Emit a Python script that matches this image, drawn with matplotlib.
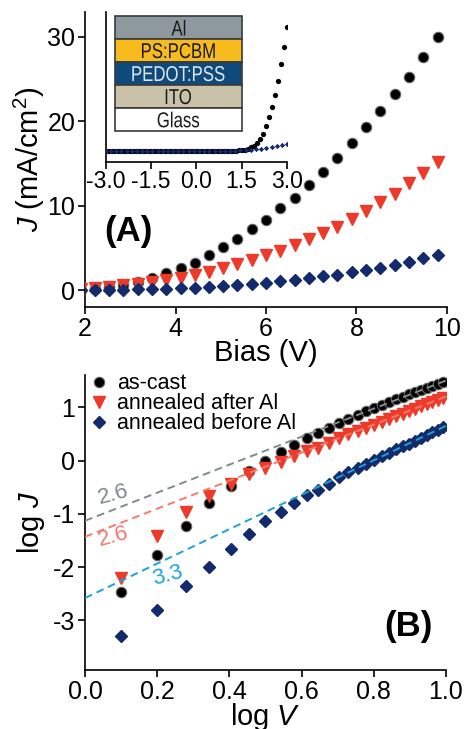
import matplotlib
matplotlib.use("Agg")
import matplotlib.pyplot as plt
import numpy as np
from matplotlib.patches import Rectangle, PathPatch
from matplotlib.textpath import TextPath
from matplotlib.font_manager import FontProperties
from matplotlib.transforms import Affine2D, ScaledTranslation

plt.rcParams['font.family'] = ['Liberation Sans', 'DejaVu Sans']
plt.rcParams['mathtext.fontset'] = 'custom'
plt.rcParams['mathtext.rm'] = 'Liberation Sans'
plt.rcParams['mathtext.it'] = 'Liberation Sans:italic'
plt.rcParams['axes.unicode_minus'] = False

# bias points (V)
bias = [1.26, 1.58, 1.90, 2.21, 2.53, 2.84, 3.16, 3.48, 3.79, 4.11, 4.42, 4.74, 5.06, 5.37,
        5.69, 6.00, 6.32, 6.64, 6.95, 7.27, 7.58, 7.90, 8.22, 8.53, 8.85, 9.16, 9.48, 9.80]

# current density (mA/cm2)
j_ascast = [0.0034, 0.017, 0.060, 0.16, 0.33, 0.63, 1.00, 1.42, 1.98, 2.60, 3.25, 4.10, 5.10, 6.10,
            7.20, 8.35, 9.70, 10.9, 12.45, 14.0, 15.7, 17.4, 19.3, 21.2, 23.2, 25.3, 27.6, 30.0]
j_after = [0.0063, 0.039, 0.107, 0.22, 0.37, 0.56, 0.72, 0.95, 1.23, 1.48, 1.74, 2.14, 2.60, 3.10,
           3.60, 4.16, 4.67, 5.30, 6.05, 6.73, 7.48, 8.43, 9.38, 10.4, 11.44, 12.67, 13.86, 15.17]
j_before = [0.00051, 0.00155, 0.0044, 0.0102, 0.022, 0.041, 0.072, 0.11, 0.16, 0.23, 0.28, 0.37, 0.49, 0.60,
            0.72, 0.85, 1.02, 1.19, 1.40, 1.62, 1.84, 2.08, 2.37, 2.67, 3.01, 3.37, 3.76, 4.17]

# inset: full sweep -3..3 V
inset_v_cast = [-3.0, -2.9, -2.8, -2.7, -2.6, -2.5, -2.4, -2.3, -2.2, -2.1, -2.0, -1.9, -1.8, -1.7, -1.6,
                -1.5, -1.4, -1.3, -1.2, -1.1, -1.0, -0.9, -0.8, -0.7, -0.6, -0.5, -0.4, -0.3, -0.2, -0.1,
                0.0, 0.1, 0.2, 0.3, 0.4, 0.5, 0.6, 0.7, 0.8, 0.9, 1.0, 1.1, 1.2, 1.3, 1.4,
                1.5, 1.6, 1.7, 1.8, 1.9, 2.0, 2.1, 2.2, 2.3, 2.4, 2.5, 2.6, 2.7, 2.8, 2.9, 3.0]
inset_j_cast = [0, 0, 0, 0, 0, 0, 0, 0, 0, 0, 0, 0, 0, 0, 0,
                0, 0, 0, 0, 0, 0, 0, 0, 0, 0, 0, 0, 0, 0, 0,
                0, 0, 0, 0, 0, 0, 0, 0, 0, 0, 0, 0, 0, 0, 0.001,
                0.002, 0.005, 0.011, 0.020, 0.032, 0.050, 0.076, 0.110, 0.158, 0.216, 0.280, 0.357,
                0.454, 0.558, 0.670, 0.800]
inset_v_before = [-3.00, -2.83, -2.66, -2.49, -2.31, -2.14, -1.97, -1.80, -1.63, -1.46, -1.29, -1.11,
                  -0.94, -0.77, -0.60, -0.43, -0.26, -0.09, 0.09, 0.26, 0.43, 0.60, 0.77, 0.94,
                  1.11, 1.29, 1.46, 1.63, 1.80, 1.97, 2.14, 2.31, 2.49, 2.66, 2.83, 3.00]
inset_j_before = [0, 0, 0, 0, 0, 0, 0, 0, 0, 0, 0, 0,
                  0, 0, 0, 0, 0, 0, 0, 0, 0, 0, 0, 0,
                  0, 0, 0.001, 0.003, 0.006, 0.009, 0.013, 0.018, 0.023, 0.029, 0.036, 0.043]

layers = ['Al', 'PS:PCBM', 'PEDOT:PSS', 'ITO', 'Glass']
layer_colors = ['#8e989f', '#f8bb1d', '#0f4a7b', '#c9c2a8', '#ffffff']
layer_text_colors = ['#1a1a1a', '#1a1a1a', '#dfe8f0', '#1a1a1a', '#1a1a1a']

# power-law fits in log-log: (slope, intercept, label)
fit_slopes = [2.63, 2.63, 3.23]
fit_intercepts = [-1.13, -1.43, -2.58]
fit_labels = ['2.6', '2.6', '3.3']
fit_colors = ['#808b8c', '#f47a70', '#1aa3d4']

c_black = '#000000'
c_red = '#ee3a2a'
c_blue = '#132a6c'

fig = plt.figure(figsize=(4.65, 7.29), dpi=100)

tick_fs = 18
label_fs = 21


def style_axes(ax):
    for side in ['top', 'right']:
        ax.spines[side].set_visible(False)
    for side in ['left', 'bottom']:
        ax.spines[side].set_linewidth(1.2)
    ax.tick_params(direction='out', length=5, width=1.2, labelsize=tick_fs, pad=2)


def narrow_text(ax, x, y, s, size, color, squeeze=0.8):
    # condensed label: text outline squeezed horizontally
    tp = TextPath((0, 0), s, size=size, prop=FontProperties(family='Liberation Sans'))
    ext = tp.get_extents()
    cx = (ext.x0 + ext.x1) / 2
    cy = (ext.y0 + ext.y1) / 2
    tr = (Affine2D().translate(-cx, -cy).scale(squeeze / 72.0, 1 / 72.0)
          + fig.dpi_scale_trans + ScaledTranslation(x, y, ax.transAxes))
    ax.add_artist(PathPatch(tp, transform=tr, facecolor=color, edgecolor='none', zorder=6))


# ---- panel A
ax1 = fig.add_axes([0.183, 0.579, 0.778, 0.405])
style_axes(ax1)
ax1.plot(bias, j_ascast, 'o', color=c_black, mec='#666666', mew=0.8, ms=7.5, zorder=3)
ax1.plot(bias, j_after, 'v', color=c_red, mec=c_red, ms=8, zorder=3)
ax1.plot(bias, j_before, 'D', color=c_blue, mec=c_blue, ms=6, zorder=3)
ax1.set_xlim(2, 10)
ax1.set_ylim(-2.0, 33.0)
ax1.set_xticks([2, 4, 6, 8, 10])
ax1.set_yticks([0, 10, 20, 30])
ax1.set_xlabel('Bias (V)', fontsize=label_fs, labelpad=-1)
ax1.set_ylabel('$J$ (mA/cm$^2$)', fontsize=label_fs, labelpad=0)
ax1.text(2.95, 6.9, '(A)', fontsize=25, fontweight='bold', ha='center', va='center')

# inset
axi = fig.add_axes([0.228, 0.778, 0.389, 0.206])
axi.patch.set_visible(False)
style_axes(axi)
axi.plot(inset_v_cast, inset_j_cast, 'o', color=c_black, ms=3.8, mew=0, zorder=3)
axi.plot(inset_v_before, inset_j_before, 'D', color=c_blue, ms=2.7, mew=0, zorder=4)
axi.set_xlim(-3, 3)
axi.set_ylim(-0.073, 0.90)
axi.set_xticks([-3.0, -1.5, 0.0, 1.5, 3.0])
axi.set_xticklabels(['-3.0', '-1.5', '0.0', '1.5', '3.0'])
axi.set_yticks([])
axi.tick_params(axis='x', labelsize=16.5, pad=1)

# device stack drawn in the inset (axes fraction coords)
box_x0, box_w = 0.05, 0.70
box_top, box_h = 0.97, 0.153
for i, (name, fc, tc) in enumerate(zip(layers, layer_colors, layer_text_colors)):
    y0 = box_top - (i + 1) * box_h
    axi.add_patch(Rectangle((box_x0, y0), box_w, box_h, transform=axi.transAxes,
                            facecolor=fc, edgecolor='#3a3a3a', lw=1.2, zorder=5))
    narrow_text(axi, box_x0 + box_w / 2, y0 + box_h / 2, name, 15.5, tc, squeeze=0.78)

# ---- panel B
ax2 = fig.add_axes([0.183, 0.081, 0.776, 0.405])
style_axes(ax2)
log_v = np.log10(bias)
ax2.plot(log_v, np.log10(j_ascast), 'o', color=c_black, mec='#666666', mew=0.8, ms=7.5,
         label='as-cast', zorder=3)
ax2.plot(log_v, np.log10(j_after), 'v', color=c_red, mec=c_red, ms=8,
         label='annealed after Al', zorder=3)
ax2.plot(log_v, np.log10(j_before), 'D', color=c_blue, mec=c_blue, ms=6,
         label='annealed before Al', zorder=3)

fx = np.array([0.0, 1.0])
for s, b, c in zip(fit_slopes, fit_intercepts, fit_colors):
    ax2.plot(fx, b + s * fx, '--', color=c, lw=1.4, dashes=(4, 2.5), zorder=4)

ax2.text(0.078, -0.64, fit_labels[0], color=fit_colors[0], fontsize=16, ha='center', va='center', rotation=15)
ax2.text(0.078, -1.43, fit_labels[1], color=fit_colors[1], fontsize=16, ha='center', va='center', rotation=15)
ax2.text(0.23, -2.17, fit_labels[2], color=fit_colors[2], fontsize=16, ha='center', va='center', rotation=15)

ax2.set_xlim(0, 1.0)
ax2.set_ylim(-3.93, 1.61)
ax2.set_xticks([0.0, 0.2, 0.4, 0.6, 0.8, 1.0])
ax2.set_xticklabels(['0.0', '0.2', '0.4', '0.6', '0.8', '1.0'])
ax2.set_yticks([-3, -2, -1, 0, 1])
ax2.set_xlabel('log $V$', fontsize=label_fs, labelpad=-2)
ax2.set_ylabel('log $J$', fontsize=label_fs, labelpad=4)
ax2.text(0.895, -3.12, '(B)', fontsize=25, fontweight='bold', ha='center', va='center')
ax2.legend(loc='upper left', bbox_to_anchor=(0.018, 1.005), frameon=False, fontsize=15.5,
           handlelength=0.7, handletextpad=0.5, labelspacing=-0.05, borderaxespad=0, borderpad=0)

fig.savefig('out.png', dpi=100, facecolor='white')
